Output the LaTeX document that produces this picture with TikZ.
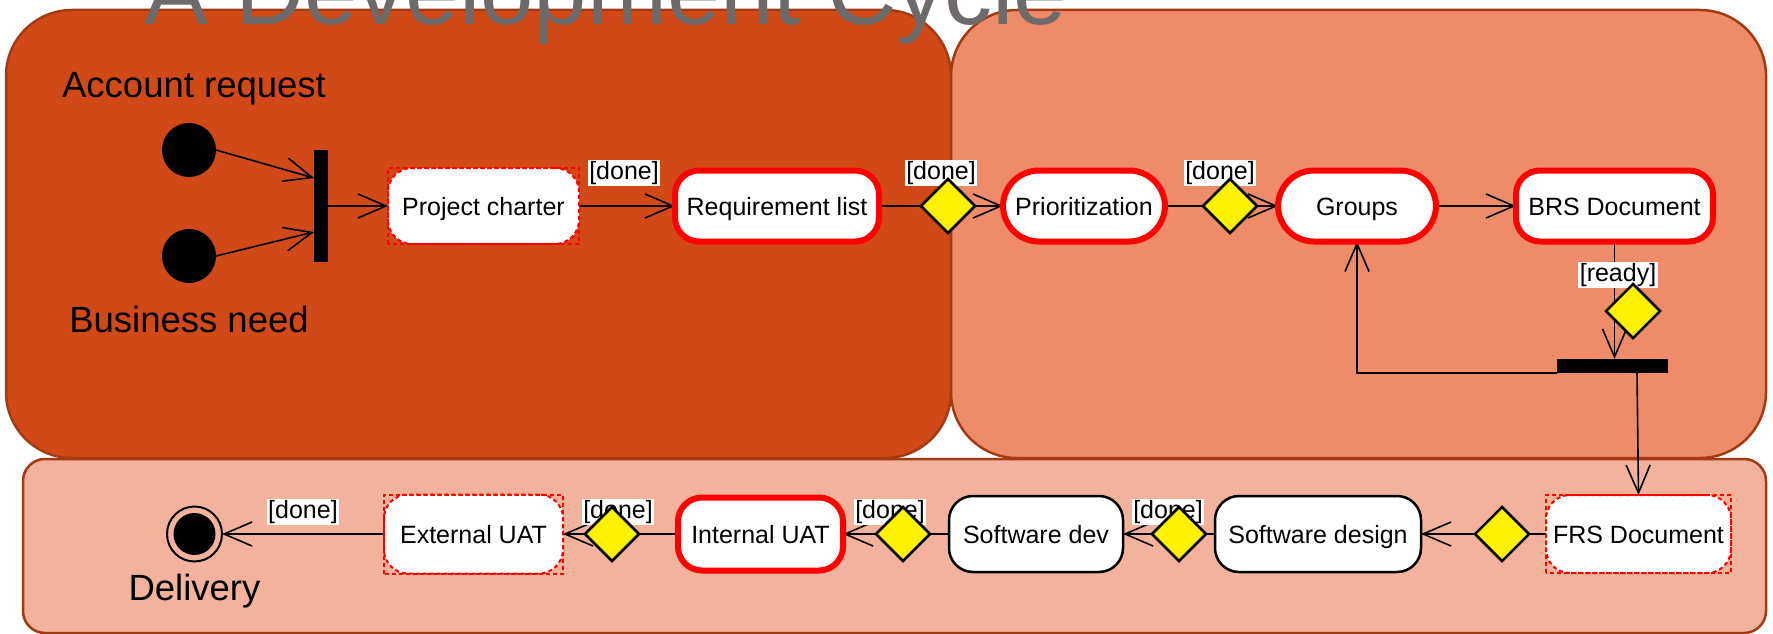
\documentclass[tikz,border=0pt]{standalone}
\usepackage{fontspec}
\setmainfont{Liberation Sans}
\usetikzlibrary{shapes.geometric,arrows.meta,calc}
\definecolor{laneA}{HTML}{D14917}
\definecolor{laneB}{HTML}{EE8C6A}
\definecolor{laneC}{HTML}{F3B29B}
\definecolor{laneEdge}{HTML}{A33A12}
\definecolor{titleGray}{HTML}{6E6A69}
\pgfdeclarelayer{lanes}
\pgfdeclarelayer{links}
\pgfsetlayers{lanes,links,main}
\tikzset{
  lane/.style={draw=laneEdge, line width=2.5pt},
  act/.style={rectangle, rounded corners=24pt, fill=white, draw=black, line width=2.5pt,
    minimum height=76pt, inner sep=0pt, outer sep=0pt, text height=18pt, text depth=0pt,
    font=\fontsize{25}{29}\selectfont},
  hot/.style={act, draw=red, line width=6pt},
  pill/.style={hot, rounded corners=36pt},
  soft/.style={act, draw=red, line width=2pt, dash pattern=on 4pt off 3pt},
  softbox/.style={draw=red, line width=2pt, dash pattern=on 4pt off 3pt},
  dec/.style={diamond, aspect=1, fill=yellow, draw=black, line width=2.5pt,
    minimum width=54pt, minimum height=54pt, inner sep=0pt, outer sep=0pt},
  lbl/.style={fill=white, inner sep=1.5pt, font=\fontsize{25}{29}\selectfont},
  big/.style={font=\fontsize{36.5}{42}\selectfont},
  dot/.style={circle, fill=black, minimum size=54pt, inner sep=0pt, outer sep=0pt},
  barnode/.style={rectangle, fill=black, inner sep=0pt, outer sep=0pt},
  link/.style={line width=1.6pt, draw=black},
  arr/.style={link, -{Straight Barb[length=28pt,width=24pt,line width=1.6pt]}},
}
\begin{document}
\begin{tikzpicture}[x=1pt,y=-1pt]
\clip (0,0) rectangle (1773,634);
\useasboundingbox (0,0) rectangle (1773,634);

% swimlanes
\begin{pgfonlayer}{lanes}
  \fill[white] (0,0) rectangle (1773,634);
  \draw[lane, fill=laneC, rounded corners=22pt] (23,459) rectangle (1766,633);
  \draw[lane, fill=laneA, rounded corners=66pt] (6,10) rectangle (951,458);
  \draw[lane, fill=laneB, rounded corners=66pt] (951,10) rectangle (1766,458);
\end{pgfonlayer}

% start, fork and first row
\node[dot] (s1) at (189,150) {};
\node[dot] (s2) at (189,256) {};
\node[big] (acc) at (194,89) {Account request};
\node[big] (bus) at (189,319) {Business need};
\node[barnode, minimum width=14pt, minimum height=112pt] (fork) at (321,206) {};

\node[soft, minimum width=191pt] (pc) at (483.5,206) {Project charter};
\draw[softbox] (pc.south west) rectangle (pc.north east);
\node[hot, minimum width=204pt, minimum height=71pt] (rl) at (777,206) {Requirement list};
\node[pill, minimum width=162pt, minimum height=71pt] (pr) at (1084,206) {Prioritization};
\node[pill, minimum width=158pt, minimum height=71pt] (gr) at (1357,206) {Groups};
\node[hot, minimum width=197pt, minimum height=71pt] (brs) at (1614.5,206) {BRS Document};

\node[lbl] (l1) at (624,173) {[done]};
\node[lbl] (l2) at (941,173) {[done]};
\node[lbl] (l3) at (1220,173) {[done]};
\node[lbl] (l4) at (1618,275) {[ready]};

\node[dec] (d1) at (948,206) {};
\node[dec] (d2) at (1230,206) {};
\node[dec] (d3) at (1633,311) {};

\node[barnode, minimum width=111pt, minimum height=14pt] (join) at (1612,366) {};

% second row
\node[soft, minimum width=185pt, minimum height=78pt] (frs) at (1638.5,534) {FRS Document};
\draw[softbox] (frs.south west) rectangle (frs.north east);
\node[act, minimum width=206pt] (sd) at (1318,534) {Software design};
\node[act, minimum width=174pt] (sv) at (1036,534) {Software dev};
\node[hot, minimum width=165pt, minimum height=73pt] (iu) at (760.5,534) {Internal UAT};
\node[soft, minimum width=179pt, minimum height=79pt] (eu) at (473.5,534) {External UAT};
\draw[softbox] (eu.south west) rectangle (eu.north east);

\node[lbl] (l5) at (1168,512) {[done]};
\node[lbl] (l6) at (890,512) {[done]};
\node[lbl] (l7) at (618,512) {[done]};
\node[lbl] (l8) at (303,512) {[done]};

\node[dec] (d4) at (1502,534) {};
\node[dec] (d5) at (1179,534) {};
\node[dec] (d6) at (903,534) {};
\node[dec] (d7) at (612,534) {};

\node[circle, draw=black, line width=2pt, minimum size=55pt, inner sep=0pt, outer sep=0pt] (fin) at (194.5,534) {};
\fill[black] (fin.center) circle (21pt);
\node[big] (del) at (194.5,591) {Delivery};

% connectors
\begin{pgfonlayer}{links}
  \draw[arr] (s1.east) -- ([yshift=28pt]fork.west);
  \draw[arr] (s2.east) -- ([yshift=-26pt]fork.west);
  \draw[arr] (fork) -- (pc);
  \draw[arr] (pc) -- (rl);
  \draw[link] (rl) -- (d1);
  \draw[arr] (d1) -- (pr);
  \draw[link] (pr) -- (d2);
  \draw[arr] (d2) -- (gr);
  \draw[arr] (gr) -- (brs);
  \draw[arr] (brs.south) -- (brs.south |- join.north);
  \draw[arr] (join.south west) -| (gr.south);
  \draw[arr] ([xshift=25pt]join.south) -- (frs.north);
  \draw[link] (frs) -- (d4);
  \draw[arr] (d4) -- (sd);
  \draw[link] (sd) -- (d5);
  \draw[arr] (d5) -- (sv);
  \draw[link] (sv) -- (d6);
  \draw[arr] (d6) -- (iu);
  \draw[link] (iu) -- (d7);
  \draw[arr] (d7) -- (eu);
  \draw[arr] (eu) -- (fin);
\end{pgfonlayer}

% heading
\node[anchor=base, text=titleGray, font=\fontsize{96}{110}\selectfont] (title) at (606,25) {A Development Cycle};
\end{tikzpicture}
\end{document}
